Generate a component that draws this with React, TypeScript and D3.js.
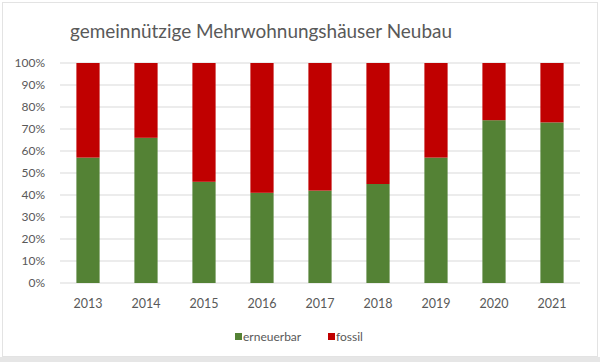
import React from "react";
import * as d3 from "d3";

const years = ["2013", "2014", "2015", "2016", "2017", "2018", "2019", "2020", "2021"];
const erneuerbar = [57, 66, 46, 41, 42, 45, 57, 74, 73];
const fossil = erneuerbar.map((v) => 100 - v);
const yTicks = [0, 10, 20, 30, 40, 50, 60, 70, 80, 90, 100];
const seriesNames = ["erneuerbar", "fossil"];
const seriesColors = ["#548235", "#C00000"];

const W = 600;
const H = 362;
const font = "Lato, 'Open Sans', sans-serif";

export default function App() {
  const x = d3.scaleBand<string>().domain(years).range([59, 581]).paddingInner(0.6).paddingOuter(0.3);
  const y = d3.scaleLinear().domain([0, 100]).range([283, 63]);
  const rows = years.map((yr, i) => ({ year: yr, erneuerbar: erneuerbar[i], fossil: fossil[i] }));
  const stack = d3.stack<any>().keys(seriesNames)(rows);

  return (
    <div style={{ position: "absolute", left: 0, top: 0 }}>
      <svg width={W} height={H} style={{ display: "block" }}>
        <rect x={0} y={0} width={W} height={H} fill="#ffffff" />
        <rect x={0} y={357} width={W} height={5} fill="#e6e6e6" />
        <rect x={2.5} y={2.5} width={595} height={354} fill="none" stroke="#e3e3e3" />
        <text x={70} y={38} fontFamily={font} fontSize={20} fill="#595959" textLength={382} lengthAdjust="spacingAndGlyphs">
          gemeinnützige Mehrwohnungshäuser Neubau
        </text>
        {yTicks.map((t) => (
          <g key={t}>
            <line x1={60} x2={580} y1={y(t)} y2={y(t)} stroke="#d9d9d9" strokeWidth={1} />
            <text x={45} y={y(t)} dy="0.35em" textAnchor="end" fontFamily={font} fontSize={12} fill="#595959">
              {t}%
            </text>
          </g>
        ))}
        {stack.map((s, si) => (
          <g key={s.key} fill={seriesColors[si]}>
            {s.map((d: any, i: number) => (
              <rect key={i} x={x(years[i])} width={x.bandwidth()} y={y(d[1])} height={y(d[0]) - y(d[1])} />
            ))}
          </g>
        ))}
        {years.map((yr) => (
          <text key={yr} x={(x(yr) as number) + x.bandwidth() / 2} y={308} textAnchor="middle" fontFamily={font} fontSize={12.5} fill="#595959">
            {yr}
          </text>
        ))}
        <g fontFamily={font} fontSize={12} fill="#595959">
          <rect x={235} y={333} width={7} height={7} fill={seriesColors[0]} />
          <text x={243} y={341}>{seriesNames[0]}</text>
          <rect x={328} y={333} width={7} height={7} fill={seriesColors[1]} />
          <text x={336} y={341}>{seriesNames[1]}</text>
        </g>
      </svg>
    </div>
  );
}
